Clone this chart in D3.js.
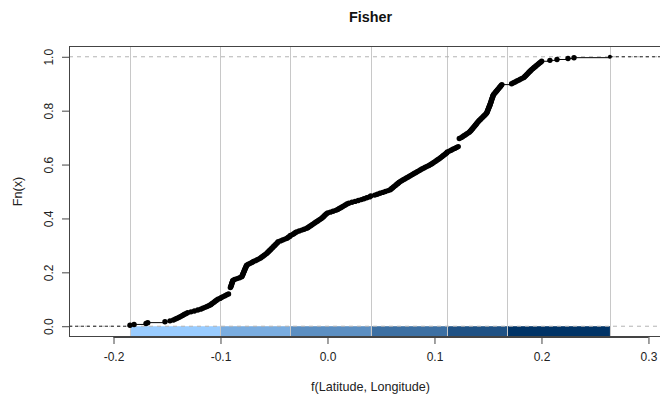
<!DOCTYPE html>
<html>
<head>
<meta charset="utf-8">
<script src="https://cdn.jsdelivr.net/npm/d3@7"></script>
<style>
  body { margin: 0; background: #fff; }
  text { font-family: "Liberation Sans", Arial, sans-serif; }
</style>
</head>
<body>
<div class="chart"></div>
<script>
// sorted values of f(Latitude, Longitude)
const values = [
  -0.1846, -0.1808, -0.1696, -0.1680, -0.1519, -0.1472, -0.1440, -0.1420, -0.1404, -0.1385,
  -0.1370, -0.1355, -0.1340, -0.1325, -0.1308, -0.1276, -0.1244, -0.1212, -0.1185, -0.1165,
  -0.1145, -0.1126, -0.1106, -0.1092, -0.1081, -0.1070, -0.1058, -0.1047, -0.1036, -0.1024,
  -0.1005, -0.0991, -0.0975, -0.0958, -0.0941, -0.0925, -0.0908, -0.0908, -0.0908, -0.0908,
  -0.0908, -0.0908, -0.0908, -0.0904, -0.0901, -0.0898, -0.0895, -0.0893, -0.0890, -0.0887,
  -0.0884, -0.0868, -0.0845, -0.0822, -0.0802, -0.0798, -0.0794, -0.0791, -0.0787, -0.0784,
  -0.0780, -0.0777, -0.0773, -0.0770, -0.0766, -0.0762, -0.0759, -0.0755, -0.0740, -0.0723,
  -0.0707, -0.0692, -0.0674, -0.0657, -0.0640, -0.0625, -0.0614, -0.0603, -0.0591, -0.0580,
  -0.0569, -0.0560, -0.0552, -0.0544, -0.0535, -0.0527, -0.0518, -0.0510, -0.0502, -0.0493,
  -0.0485, -0.0477, -0.0468, -0.0461, -0.0440, -0.0419, -0.0398, -0.0378, -0.0366, -0.0353,
  -0.0347, -0.0328, -0.0315, -0.0302, -0.0290, -0.0265, -0.0240, -0.0218, -0.0194, -0.0181,
  -0.0169, -0.0157, -0.0144, -0.0132, -0.0120, -0.0107, -0.0094, -0.0082, -0.0069, -0.0057,
  -0.0046, -0.0038, -0.0029, -0.0021, -0.0012, 0.0001, 0.0026, 0.0052, 0.0077, 0.0095,
  0.0110, 0.0124, 0.0139, 0.0153, 0.0167, 0.0182, 0.0199, 0.0229, 0.0258, 0.0288,
  0.0316, 0.0341, 0.0367, 0.0392, 0.0405, 0.0442, 0.0466, 0.0491, 0.0516, 0.0541,
  0.0566, 0.0587, 0.0597, 0.0607, 0.0617, 0.0628, 0.0638, 0.0648, 0.0658, 0.0668,
  0.0679, 0.0693, 0.0708, 0.0722, 0.0737, 0.0751, 0.0766, 0.0780, 0.0794, 0.0809,
  0.0823, 0.0838, 0.0853, 0.0867, 0.0882, 0.0898, 0.0914, 0.0931, 0.0948, 0.0964,
  0.0976, 0.0989, 0.1001, 0.1014, 0.1026, 0.1038, 0.1051, 0.1061, 0.1072, 0.1082,
  0.1093, 0.1104, 0.1114, 0.1120, 0.1139, 0.1156, 0.1172, 0.1189, 0.1206, 0.1222,
  0.1232, 0.1232, 0.1232, 0.1232, 0.1232, 0.1232, 0.1232, 0.1232, 0.1232, 0.1250,
  0.1262, 0.1275, 0.1287, 0.1300, 0.1313, 0.1325, 0.1334, 0.1341, 0.1348, 0.1355,
  0.1362, 0.1369, 0.1376, 0.1383, 0.1390, 0.1396, 0.1403, 0.1410, 0.1418, 0.1427,
  0.1435, 0.1444, 0.1452, 0.1461, 0.1469, 0.1478, 0.1486, 0.1490, 0.1494, 0.1497,
  0.1500, 0.1504, 0.1507, 0.1510, 0.1514, 0.1517, 0.1520, 0.1523, 0.1526, 0.1529,
  0.1531, 0.1534, 0.1537, 0.1540, 0.1543, 0.1545, 0.1548, 0.1553, 0.1560, 0.1567,
  0.1574, 0.1581, 0.1588, 0.1595, 0.1602, 0.1609, 0.1616, 0.1623, 0.1630, 0.1721,
  0.1738, 0.1754, 0.1770, 0.1787, 0.1803, 0.1819, 0.1836, 0.1844, 0.1852, 0.1861,
  0.1869, 0.1877, 0.1885, 0.1894, 0.1902, 0.1911, 0.1921, 0.1931, 0.1941, 0.1951,
  0.1961, 0.1971, 0.1982, 0.1992, 0.2002, 0.2079, 0.2145, 0.2248, 0.2304, 0.2640
];

// fisher class breaks and palette
const breaks = [-0.1846, -0.1005, -0.0347, 0.0405, 0.1120, 0.1678, 0.2640];
const palette = ["#99CCFF", "#7AADE0", "#5C8FC2", "#3D70A3", "#1F5285", "#003366"];

const xTicks = [-0.2, -0.1, 0.0, 0.1, 0.2, 0.3];
const yTicks = [0, 0.2, 0.4, 0.6, 0.8, 1.0];

const margin = { top: 46, left: 69, right: -12, bottom: 61 };
const W = 660, H = 398;
const width = W - margin.left - margin.right;
const height = H - margin.top - margin.bottom;

const svg = d3.select(".chart")
  .append("svg")
  .attr("width", W)
  .attr("height", H);

svg.append("clipPath").attr("id", "clip")
  .append("rect").attr("width", width).attr("height", height);

const g = svg.append("g")
  .attr("transform", `translate(${margin.left}, ${margin.top})`);

const xScale = d3.scaleLinear().domain([-0.2416, 0.322]).range([0, width]);
const yScale = d3.scaleLinear().domain([-0.04, 1.04]).range([height, 0]);

// ecdf knots
const n = values.length;
const knots = Array.from(new Set(values)).sort((a, b) => a - b)
  .map(v => ({ x: v, F: d3.bisectRight(values, v) / n }));

const plot = g.append("g").attr("clip-path", "url(#clip)");

// colour bar under F = 0
plot.selectAll(".band")
  .data(palette)
  .enter()
  .append("rect")
  .attr("class", "band")
  .attr("x", (d, i) => xScale(breaks[i]))
  .attr("width", (d, i) => xScale(breaks[i + 1]) - xScale(breaks[i]))
  .attr("y", yScale(0))
  .attr("height", height - yScale(0))
  .attr("fill", d => d);

plot.selectAll(".brk")
  .data(breaks)
  .enter()
  .append("line")
  .attr("class", "brk")
  .attr("x1", d => Math.round(xScale(d)) + 0.5)
  .attr("x2", d => Math.round(xScale(d)) + 0.5)
  .attr("y1", 0)
  .attr("y2", height)
  .attr("stroke", "#c8c8c8");

plot.selectAll(".hline")
  .data([0, 1])
  .enter()
  .append("line")
  .attr("class", "hline")
  .attr("x1", 0)
  .attr("x2", width)
  .attr("y1", d => yScale(d))
  .attr("y2", d => yScale(d))
  .attr("stroke", "#b3b3b3")
  .attr("stroke-dasharray", "4,4");

// step segments
const steps = knots.slice(0, -1).map((k, i) => ({ x0: k.x, x1: knots[i + 1].x, F: k.F }));
plot.selectAll(".step")
  .data(steps)
  .enter()
  .append("line")
  .attr("class", "step")
  .attr("x1", d => xScale(d.x0))
  .attr("x2", d => xScale(d.x1))
  .attr("y1", d => yScale(d.F))
  .attr("y2", d => yScale(d.F))
  .attr("stroke", "#000");

const ends = [
  { x0: xScale.domain()[0], x1: knots[0].x, F: 0 },
  { x0: knots[knots.length - 1].x, x1: xScale.domain()[1], F: 1 }
];
plot.selectAll(".ext")
  .data(ends)
  .enter()
  .append("line")
  .attr("class", "ext")
  .attr("x1", d => xScale(d.x0))
  .attr("x2", d => xScale(d.x1))
  .attr("y1", d => yScale(d.F))
  .attr("y2", d => yScale(d.F))
  .attr("stroke", "#222")
  .attr("stroke-dasharray", "3,3");

plot.selectAll(".pt")
  .data(knots)
  .enter()
  .append("circle")
  .attr("class", "pt")
  .attr("cx", d => xScale(d.x))
  .attr("cy", d => yScale(d.F))
  .attr("r", d => d.F === 1 ? 2 : 2.7)
  .attr("fill", "#000");

// frame
g.append("rect")
  .attr("x", 0.5)
  .attr("y", 0.5)
  .attr("width", width)
  .attr("height", height - 1)
  .attr("fill", "none")
  .attr("stroke", "#444");

const fmt = d => d.toFixed(1);
const xAxis = d3.axisBottom(xScale).tickValues(xTicks).tickFormat(fmt).tickSize(7);
const yAxis = d3.axisLeft(yScale).tickValues(yTicks).tickFormat(fmt).tickSize(7);

const gx = g.append("g")
  .attr("class", "axis x-axis")
  .attr("transform", `translate(0, ${height})`)
  .call(xAxis);
gx.select(".domain")
  .attr("d", `M${xScale(xTicks[0])},0.5H${xScale(xTicks[xTicks.length - 1])}`)
  .attr("stroke", "#444");
gx.selectAll(".tick line").attr("stroke", "#444");
gx.selectAll(".tick text")
  .attr("y", 15)
  .attr("font-size", "12px")
  .attr("fill", "#222");

const gy = g.append("g")
  .attr("class", "axis y-axis")
  .call(yAxis);
gy.select(".domain")
  .attr("d", `M0.5,${yScale(0)}V${yScale(1)}`)
  .attr("stroke", "#444");
gy.selectAll(".tick line").attr("stroke", "#444");
gy.selectAll(".tick text")
  .attr("x", null)
  .attr("dy", null)
  .attr("text-anchor", "middle")
  .attr("transform", "translate(-16, 0) rotate(-90)")
  .attr("font-size", "12px")
  .attr("fill", "#222");

svg.selectAll(".axis").attr("font-family", null);

svg.append("text")
  .attr("x", margin.left + width / 2)
  .attr("y", 22)
  .attr("text-anchor", "middle")
  .attr("font-size", "14.4px")
  .attr("font-weight", "bold")
  .attr("fill", "#111")
  .text("Fisher");

svg.append("text")
  .attr("x", margin.left + width / 2)
  .attr("y", 391)
  .attr("text-anchor", "middle")
  .attr("font-size", "12.6px")
  .attr("fill", "#222")
  .text("f(Latitude, Longitude)");

svg.append("text")
  .attr("transform", `translate(22, ${margin.top + height / 2}) rotate(-90)`)
  .attr("text-anchor", "middle")
  .attr("font-size", "12.6px")
  .attr("fill", "#222")
  .text("Fn(x)");
</script>
</body>
</html>
